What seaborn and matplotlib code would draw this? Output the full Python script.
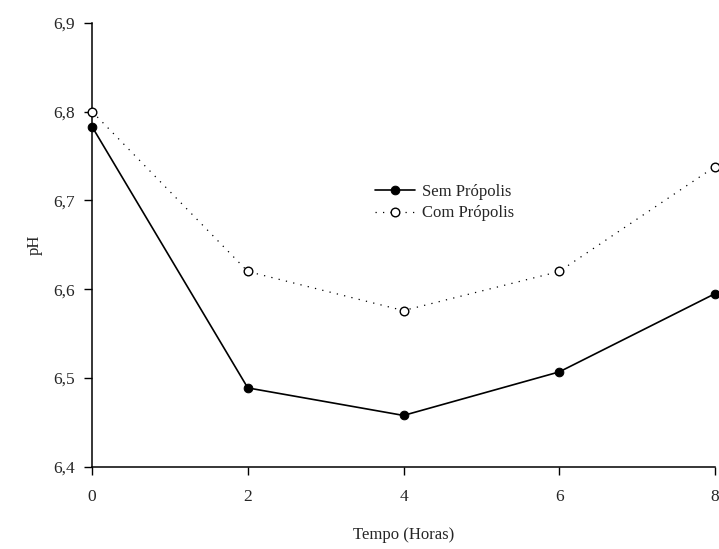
import numpy as np
import pandas as pd
import matplotlib
matplotlib.use('Agg')
import matplotlib.pyplot as plt
import seaborn as sns
from matplotlib.ticker import FuncFormatter

# data
tempo = [0, 2, 4, 6, 8]
sem_propolis = [6.783, 6.489, 6.458, 6.507, 6.595]
com_propolis = [6.800, 6.620, 6.576, 6.620, 6.738]
x_ticks = [0, 2, 4, 6, 8]
y_ticks = [6.4, 6.5, 6.6, 6.7, 6.8, 6.9]

sns.set_style('ticks')
plt.rcParams['font.family'] = ['Liberation Serif', 'DejaVu Serif']

df = pd.DataFrame({'Tempo': tempo * 2,
                   'pH': sem_propolis + com_propolis,
                   'Serie': ['Sem Própolis'] * 5 + ['Com Própolis'] * 5})

fig = plt.figure(figsize=(7.19, 5.49), dpi=100)
ax = fig.add_axes([0.128, 0.1494, 0.8664, 0.8093])

sns.lineplot(data=df[df['Serie'] == 'Sem Própolis'], x='Tempo', y='pH', ax=ax,
             color='black', linewidth=1.2, linestyle='-', marker='o',
             markersize=6.2, markerfacecolor='black', markeredgecolor='black',
             label='Sem Própolis', clip_on=False, zorder=3)
sns.lineplot(data=df[df['Serie'] == 'Com Própolis'], x='Tempo', y='pH', ax=ax,
             color='black', linewidth=0.9, linestyle=(0, (1, 5)), marker='o',
             markersize=6.2, markerfacecolor='white', markeredgecolor='black',
             markeredgewidth=1.0, label='Com Própolis', clip_on=False, zorder=3)

ax.set_xlim(0, 8)
ax.set_ylim(6.4, 6.9)
ax.set_xticks(x_ticks)
ax.set_yticks(y_ticks)
ax.yaxis.set_major_formatter(FuncFormatter(lambda v, p: f'{v:.1f}'.replace('.', ',')))
ax.tick_params(direction='out', length=6, width=1, labelsize=12.5, color='black')
ax.tick_params(axis='x', pad=10)
ax.tick_params(axis='y', pad=6)
for s in ['top', 'right']:
    ax.spines[s].set_visible(False)
for s in ['left', 'bottom']:
    ax.spines[s].set_linewidth(1.1)
    ax.spines[s].set_color('black')

ax.set_xlabel('Tempo (Horas)', fontsize=12, labelpad=16)
ax.set_ylabel('pH', fontsize=12, labelpad=8)

ax.legend(loc='upper left', bbox_to_anchor=(0.5, 0.693), bbox_transform=fig.transFigure,
          frameon=False, fontsize=12, handlelength=2.4, handletextpad=0.45,
          labelspacing=0.35)

fig.savefig('out.png', dpi=100)
